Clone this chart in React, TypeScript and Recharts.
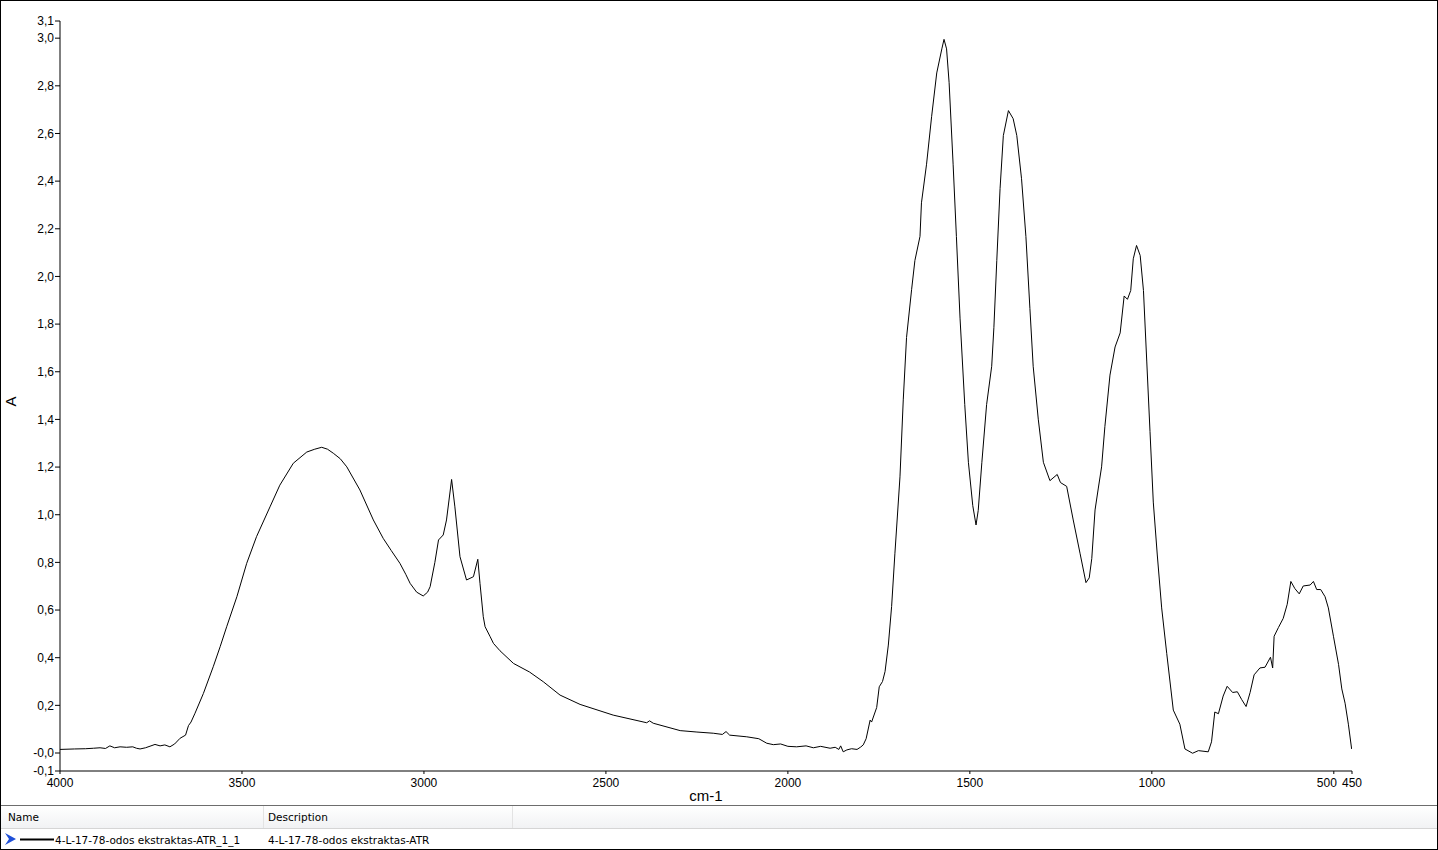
import { LineChart, Line, XAxis, YAxis } from 'recharts';

// wavenumber (cm-1)
const wavenumbers = [
  4000, 3960, 3930, 3908, 3890, 3875, 3863, 3850, 3835, 3817, 3800, 3790, 3780, 3765, 3750, 3739, 3725, 3712, 3698, 3685,
  3670, 3655, 3647, 3640, 3629, 3606, 3579, 3560, 3542, 3514, 3487, 3460, 3423, 3396, 3359, 3322, 3300, 3281, 3265, 3249,
  3230, 3212, 3176, 3139, 3112, 3090, 3066, 3050, 3038, 3020, 3002, 2990, 2983, 2970, 2960, 2947, 2938, 2924, 2915, 2901,
  2883, 2864, 2852, 2846, 2837, 2832, 2818, 2809, 2791, 2754, 2710, 2672, 2626, 2571, 2480, 2388, 2380, 2370, 2296, 2250,
  2205, 2180, 2170, 2160, 2113, 2080, 2058, 2040, 2020, 2000, 1976, 1950, 1930, 1910, 1884, 1870, 1860, 1855, 1848, 1838,
  1825, 1810, 1800, 1793, 1785, 1774, 1770, 1756, 1749, 1740, 1733, 1724, 1715, 1706, 1692, 1683, 1674, 1660, 1651, 1637,
  1633, 1619, 1605, 1591, 1577, 1571, 1564, 1557, 1546, 1537, 1527, 1514, 1504, 1492, 1483, 1477, 1467, 1454, 1440, 1434,
  1426, 1417, 1408, 1394, 1381, 1371, 1358, 1346, 1335, 1326, 1312, 1298, 1280, 1260, 1251, 1234, 1216, 1197, 1181, 1172,
  1165, 1156, 1147, 1138, 1129, 1115, 1101, 1087, 1076, 1067, 1058, 1051, 1042, 1032, 1023, 1014, 1005, 996, 985, 973,
  959, 941, 923, 909, 888, 872, 845, 836, 827, 817, 804, 793, 778, 765, 753, 741, 730, 719, 703, 689,
  674, 668, 664, 652, 639, 628, 618, 607, 595, 584, 565, 556, 547, 536, 524, 515, 501, 487, 478, 469,
  460, 451,
];

// absorbance (A)
const absorbance = [
  0.015, 0.017, 0.018, 0.02, 0.022, 0.019, 0.03, 0.022, 0.026, 0.024, 0.026, 0.02, 0.017, 0.022, 0.03, 0.036, 0.03, 0.034, 0.026, 0.038,
  0.062, 0.075, 0.115, 0.13, 0.167, 0.25, 0.362, 0.446, 0.53, 0.656, 0.796, 0.908, 1.033, 1.124, 1.216, 1.263, 1.275, 1.283, 1.275, 1.258,
  1.235, 1.201, 1.104, 0.978, 0.901, 0.85, 0.796, 0.75, 0.712, 0.675, 0.659, 0.675, 0.698, 0.8, 0.894, 0.915, 0.978, 1.148, 1.033, 0.824,
  0.726, 0.74, 0.813, 0.712, 0.572, 0.53, 0.488, 0.46, 0.429, 0.376, 0.34, 0.299, 0.243, 0.204, 0.159, 0.127, 0.135, 0.125, 0.094, 0.088,
  0.083, 0.078, 0.09, 0.075, 0.068, 0.06, 0.041, 0.035, 0.038, 0.028, 0.026, 0.03, 0.022, 0.028, 0.02, 0.024, 0.015, 0.03, 0.005, 0.013,
  0.018, 0.015, 0.025, 0.034, 0.06, 0.138, 0.13, 0.191, 0.278, 0.3, 0.342, 0.453, 0.615, 0.836, 1.159, 1.482, 1.744, 1.946, 2.067, 2.168,
  2.309, 2.471, 2.672, 2.854, 2.955, 2.995, 2.955, 2.813, 2.471, 2.168, 1.825, 1.462, 1.22, 1.038, 0.957, 1.018, 1.22, 1.462, 1.623, 1.785,
  2.067, 2.369, 2.591, 2.696, 2.662, 2.591, 2.41, 2.168, 1.865, 1.623, 1.401, 1.22, 1.143, 1.169, 1.135, 1.119, 0.978, 0.836, 0.715, 0.735,
  0.816, 1.02, 1.112, 1.201, 1.37, 1.586, 1.704, 1.763, 1.918, 1.904, 1.941, 2.074, 2.13, 2.088, 1.941, 1.645, 1.349, 1.053, 0.831, 0.609,
  0.417, 0.18, 0.121, 0.017, -0.001, 0.01, 0.005, 0.047, 0.172, 0.165, 0.239, 0.28, 0.254, 0.257, 0.224, 0.195, 0.254, 0.328, 0.357, 0.36,
  0.402, 0.357, 0.49, 0.527, 0.565, 0.624, 0.72, 0.69, 0.668, 0.701, 0.705, 0.72, 0.686, 0.686, 0.656, 0.609, 0.49, 0.372, 0.269, 0.209,
  0.121, 0.017,
];

const xTicks = [4000, 3500, 3000, 2500, 2000, 1500, 1000, 500, 450];
const yTicks = [-0.0755, 0, 0.2, 0.4, 0.6, 0.8, 1.0, 1.2, 1.4, 1.6, 1.8, 2.0, 2.2, 2.4, 2.6, 2.8, 3.0, 3.072];
const yTickLabels = ['-0,1', '-0,0', '0,2', '0,4', '0,6', '0,8', '1,0', '1,2', '1,4', '1,6', '1,8', '2,0', '2,2', '2,4', '2,6', '2,8', '3,0', '3,1'];

const seriesName = '4-L-17-78-odos ekstraktas-ATR_1_1';
const seriesDescription = '4-L-17-78-odos ekstraktas-ATR';

const data = wavenumbers.map((w, i) => ({ w, a: absorbance[i] }));

const axisFont = '"Liberation Sans", Arial, sans-serif';
const tableFont = '"DejaVu Sans", Tahoma, sans-serif';
const tickStyle = { fontSize: 12, fill: '#000', fontFamily: axisFont };

// the 500 label is nudged left so it doesn't run into 450, like the original
const XTick = (props: any) => {
  const { x, y, payload } = props;
  const dx = payload.value === 500 ? -7 : 0;
  return (
    <text x={x + dx} y={y} dy="0.71em" textAnchor="middle" fontSize={12} fill="#000" fontFamily={axisFont}>
      {payload.value}
    </text>
  );
};

export default function App() {
  return (
    <div style={{ position: 'relative', width: 1438, height: 850, background: '#fff' }}>
      <style>{'body{margin:0}'}</style>
      <LineChart width={1438} height={805} data={data} margin={{ top: 21, right: 86, bottom: 0, left: 0 }}>
        <XAxis
          dataKey="w"
          type="number"
          domain={[450, 4000]}
          reversed
          ticks={xTicks}
          interval={0}
          height={34}
          tickSize={3}
          tickMargin={4}
          stroke="#000"
          tick={<XTick />}
          allowDataOverflow
          label={{ value: 'cm-1', position: 'insideBottom', offset: 4, style: { fontSize: 15, fill: '#000', fontFamily: axisFont } }}
        />
        <YAxis
          type="number"
          domain={[-0.0755, 3.072]}
          ticks={yTicks}
          interval={0}
          width={60}
          tickSize={5}
          tickMargin={1}
          stroke="#000"
          tick={tickStyle}
          allowDataOverflow
          tickFormatter={(_v: number, i: number) => yTickLabels[i]}
        />
        <Line
          dataKey="a"
          type="linear"
          stroke="#000"
          strokeWidth={1}
          dot={false}
          isAnimationActive={false}
        />
      </LineChart>

      <div style={{ position: 'absolute', left: 5, top: 393, fontSize: 15, fontFamily: axisFont, transform: 'rotate(-90deg)', color: '#000' }}>A</div>

      {/* series table */}
      <div style={{ position: 'absolute', left: 0, top: 805, width: 1438, height: 45, borderTop: '1px solid #6d6d6d', boxSizing: 'border-box', fontSize: 10.5, fontFamily: tableFont, color: '#000' }}>
        <div style={{ position: 'relative', height: 22, background: 'linear-gradient(#ffffff, #f1f2f4)', borderBottom: '1px solid #d5d5d5' }}>
          <span style={{ position: 'absolute', left: 8, top: 5 }}>Name</span>
          <div style={{ position: 'absolute', left: 263, top: 0, width: 1, height: 22, background: '#e3e3e3' }} />
          <span style={{ position: 'absolute', left: 268, top: 5 }}>Description</span>
          <div style={{ position: 'absolute', left: 512, top: 0, width: 1, height: 22, background: '#e3e3e3' }} />
        </div>
        <div style={{ position: 'relative', height: 21, borderBottom: '1px solid #6d6d6d' }}>
          <svg width={52} height={20} style={{ position: 'absolute', left: 4, top: 1 }}>
            <polygon points="1,3 12,9 1,15 5,9" fill="#1f4fd8" />
            <line x1={16} y1={9.5} x2={50} y2={9.5} stroke="#000" strokeWidth={2} />
          </svg>
          <span style={{ position: 'absolute', left: 55, top: 5 }}>{seriesName}</span>
          <span style={{ position: 'absolute', left: 268, top: 5 }}>{seriesDescription}</span>
        </div>
      </div>

      <div style={{ position: 'absolute', inset: 0, border: '1px solid #000', pointerEvents: 'none' }} />
    </div>
  );
}
